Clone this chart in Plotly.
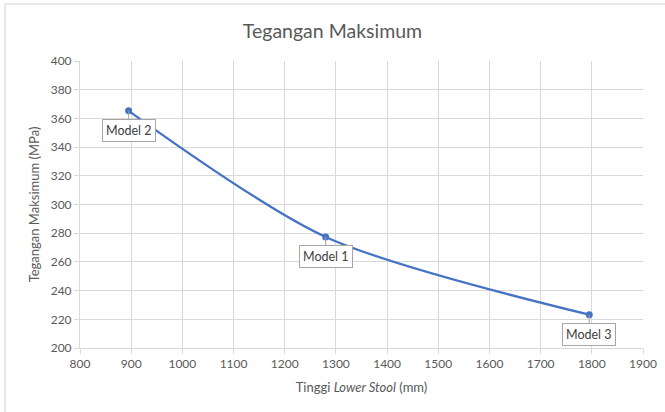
import plotly.graph_objects as go

heights = [895, 1280, 1795]
stress = [365.3, 277.4, 223.2]
labels = ["Model 2", "Model 1", "Model 3"]
x_ticks = list(range(800, 1901, 100))
y_ticks = list(range(200, 401, 20))

W, H = 665, 412
ml, mr, mt, mb = 80, 22, 61, 64
FONT = "Lato, Open Sans, sans-serif"

fig = go.Figure()
fig.add_trace(go.Scatter(
    x=heights, y=stress, mode="lines+markers",
    line=dict(color="#4472C4", width=2.25, shape="spline", smoothing=0.8),
    marker=dict(color="#4472C4", size=7),
    hoverinfo="x+y", showlegend=False,
))

for xv, yv, lb in zip(heights, stress, labels):
    fig.add_annotation(
        x=xv, y=yv, text=lb, showarrow=True, arrowhead=0, arrowwidth=1,
        arrowcolor="#A6A6A6", ax=0, ay=20, axref="pixel", ayref="pixel",
        bordercolor="#A6A6A6", borderwidth=1, borderpad=3, bgcolor="white",
        font=dict(family=FONT, size=12.5, color="#404040"),
    )

pw = W - ml - mr
ph = H - mt - mb
fig.add_shape(type="rect", xref="paper", yref="paper",
              x0=(5 - ml) / pw, x1=1 + (mr + 20) / pw,
              y0=-(mb + 20) / ph, y1=1 + (mt - 4) / ph,
              line=dict(color="#D0D0D0", width=1), layer="below")

axis_common = dict(
    showgrid=True, gridcolor="#D9D9D9", gridwidth=1,
    showline=True, linecolor="#D9D9D9", linewidth=1,
    ticks="outside", tickcolor="#D9D9D9", ticklen=5,
    tickfont=dict(family=FONT, size=12, color="#595959"),
    zeroline=False,
)

fig.update_layout(
    width=W, height=H,
    margin=dict(l=ml, r=mr, t=mt, b=mb, autoexpand=False),
    paper_bgcolor="white", plot_bgcolor="white",
    title=dict(text="Tegangan Maksimum", x=0.5, xanchor="center", y=1 - 31 / H, yanchor="middle",
               font=dict(family=FONT, size=19.5, color="#595959")),
    xaxis=dict(range=[800, 1900], tickvals=x_ticks,
               title=dict(text="Tinggi <i>Lower Stool</i> (mm)", standoff=12,
                          font=dict(family=FONT, size=13, color="#595959")),
               **axis_common),
    yaxis=dict(range=[200, 400], tickvals=y_ticks,
               title=dict(text="Tegangan Maksimum (MPa)", standoff=8,
                          font=dict(family=FONT, size=13, color="#595959")),
               **axis_common),
)

fig.write_html("out.html", config={"displayModeBar": False},
               post_script="document.body.style.margin='0';document.body.style.overflow='hidden';")
